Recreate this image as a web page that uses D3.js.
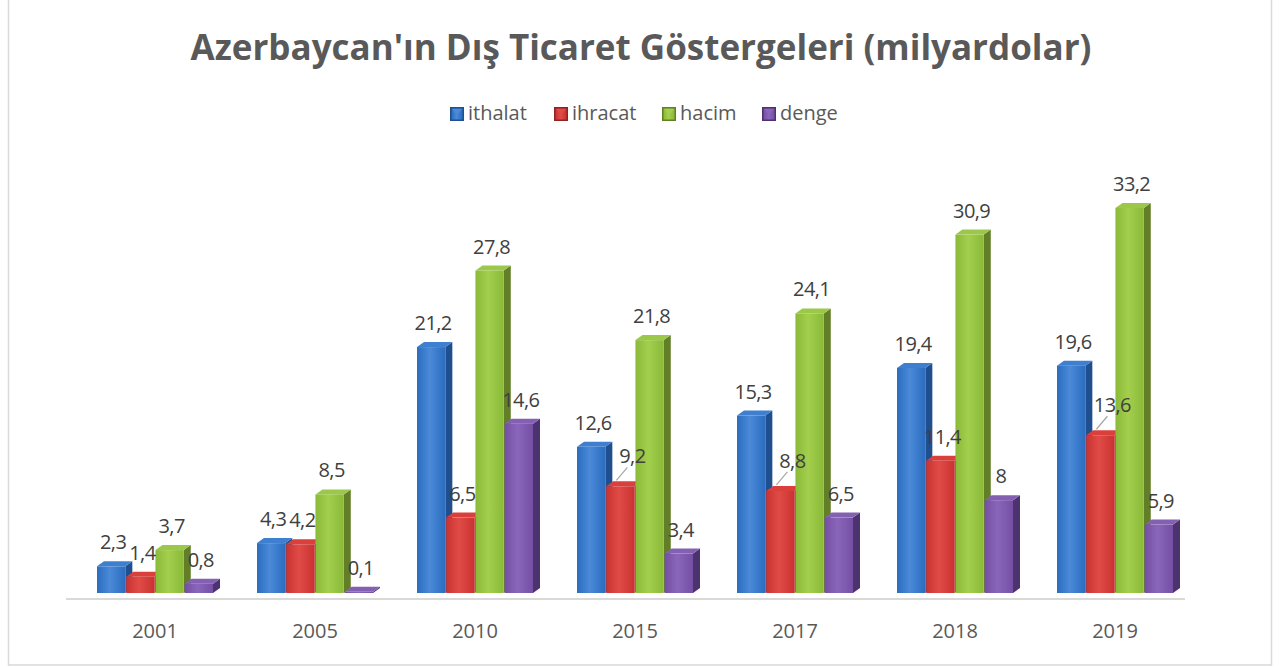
<!DOCTYPE html>
<html>
<head>
<meta charset="utf-8">
<script src="https://d3js.org/d3.v7.min.js"></script>
<style>
  body { margin: 0; background: #fff; }
  svg { display: block; font-family: "Open Sans", sans-serif; }
</style>
</head>
<body>
<script>
//chart data
var years = ["2001", "2005", "2010", "2015", "2017", "2018", "2019"];
var seriesNames = ["ithalat", "ihracat", "hacim", "denge"];
var ithalat = [2.3, 4.3, 21.2, 12.6, 15.3, 19.4, 19.6];
var ihracat = [1.4, 4.2, 6.5, 9.2, 8.8, 11.4, 13.6];
var hacim = [3.7, 8.5, 27.8, 21.8, 24.1, 30.9, 33.2];
var denge = [0.8, 0.1, 14.6, 3.4, 6.5, 8, 5.9];
var valueArray = [ithalat, ihracat, hacim, denge];
//labels that were pushed up with a leader line ("series|year")
var leaderLabels = ["ihracat|2015", "ihracat|2017", "ihracat|2019"];

//colours per series: front, side, top
var colors = [
  {front: "#2c6cc0", light: "#4a8ad8", side: "#1f4f8f", top: "#3f7fd0"},
  {front: "#c93230", light: "#e04b47", side: "#8e2321", top: "#d9403c"},
  {front: "#8aba38", light: "#a3cf4d", side: "#627f27", top: "#9cc84a"},
  {front: "#744fa4", light: "#8a66ba", side: "#4d3270", top: "#8360b2"}
];

var width = 1279, height = 667;
var svg = d3.select("body").append("svg")
  .attr("width", width)
  .attr("height", height);

//outer frame
svg.append("rect")
  .attr("x", 8.5).attr("y", -2)
  .attr("width", 1263).attr("height", 667)
  .attr("fill", "none")
  .attr("stroke", "#d9d9d9")
  .attr("stroke-width", 1.5);

//title
svg.append("text")
  .attr("x", 641).attr("y", 60)
  .attr("text-anchor", "middle")
  .attr("font-size", 35)
  .attr("font-weight", "bold")
  .attr("fill", "#595959")
  .text("Azerbaycan'ın Dış Ticaret Göstergeleri (milyardolar)");

//gradients
var defs = svg.append("defs");
colors.forEach(function(c, i){
  var g = defs.append("linearGradient")
    .attr("id", "grad" + i)
    .attr("x1", "0").attr("x2", "1").attr("y1", "0").attr("y2", "0");
  g.append("stop").attr("offset", "0%").attr("stop-color", c.front);
  g.append("stop").attr("offset", "45%").attr("stop-color", c.light);
  g.append("stop").attr("offset", "100%").attr("stop-color", c.front);
});

//scales
var baseY = 593;
var x0 = d3.scaleBand()
  .domain(years)
  .range([75, 1195]);
var x1 = d3.scaleBand()
  .domain(seriesNames)
  .range([-58, 58])
  .paddingInner(0.03);
var y = d3.scaleLinear()
  .domain([0, 35])
  .range([baseY, baseY - 35 * 11.6]);

var depthX = 7, depthY = 5;

//axis line
svg.append("line")
  .attr("x1", 66).attr("x2", 1185)
  .attr("y1", 599).attr("y2", 599)
  .attr("stroke", "#d9d9d9")
  .attr("stroke-width", 2);

//category axis labels
var xAxis = d3.axisBottom(x0).tickSize(0).tickPadding(0);
var axisG = svg.append("g")
  .attr("transform", "translate(0,624)")
  .call(xAxis);
axisG.select(".domain").remove();
axisG.selectAll("text")
  .attr("font-family", "Open Sans, sans-serif")
  .attr("font-size", 20)
  .attr("fill", "#595959");

//build bar records
var bars = [];
years.forEach(function(yr, j){
  seriesNames.forEach(function(s, i){
    bars.push({year: yr, series: s, si: i, value: valueArray[i][j]});
  });
});

var barG = svg.append("g").attr("class", "bars");
var groups = barG.selectAll(".bar")
  .data(bars)
  .enter()
  .append("g")
  .attr("class", function(d){ return "bar " + d.series; });

function barX(d){ return x0(d.year) + x0.bandwidth() / 2 + x1(d.series); }

//side face
groups.append("path")
  .attr("d", function(d){
    var xl = barX(d) + x1.bandwidth(), yt = y(d.value);
    return "M" + xl + "," + yt + "L" + (xl + depthX) + "," + (yt - depthY) +
      "L" + (xl + depthX) + "," + (baseY - depthY) + "L" + xl + "," + baseY + "Z";
  })
  .attr("fill", function(d){ return colors[d.si].side; });

//top face
groups.append("path")
  .attr("d", function(d){
    var xl = barX(d), w = x1.bandwidth(), yt = y(d.value);
    return "M" + xl + "," + yt + "L" + (xl + depthX) + "," + (yt - depthY) +
      "L" + (xl + w + depthX) + "," + (yt - depthY) + "L" + (xl + w) + "," + yt + "Z";
  })
  .attr("fill", function(d){ return colors[d.si].top; });

//front face
groups.append("rect")
  .attr("x", barX)
  .attr("y", function(d){ return y(d.value); })
  .attr("width", x1.bandwidth())
  .attr("height", function(d){ return baseY - y(d.value); })
  .attr("fill", function(d){ return "url(#grad" + d.si + ")"; });

//data labels, in their own layer above all bars
var fmt = function(v){ return String(v).replace(".", ","); };
var labelG = svg.append("g").attr("class", "labels");
bars.forEach(function(d){
  var key = d.series + "|" + d.year;
  var cx = barX(d) + x1.bandwidth() / 2 + 2;
  var ly = y(d.value) - 17;
  if (leaderLabels.indexOf(key) >= 0){
    ly -= 6;
    labelG.append("line")
      .attr("x1", cx - 6).attr("y1", y(d.value) - 6)
      .attr("x2", cx + 5).attr("y2", y(d.value) - 19)
      .attr("stroke", "#a6a6a6").attr("stroke-width", 1.2);
    cx += 10;
  }
  labelG.append("text")
    .attr("x", cx)
    .attr("y", ly)
    .attr("text-anchor", "middle")
    .attr("font-size", 20)
    .attr("letter-spacing", "-0.6")
    .attr("fill", "#404040")
    .text(fmt(d.value));
});

//legend
var legendX = [450, 554, 662, 762];
var legend = svg.append("g").attr("class", "legend");
seriesNames.forEach(function(s, i){
  var item = legend.append("g").attr("transform", "translate(" + legendX[i] + ",107)");
  item.append("rect")
    .attr("width", 14).attr("height", 14)
    .attr("fill", colors[i].side);
  item.append("rect")
    .attr("x", 1.5).attr("y", 1.5)
    .attr("width", 11).attr("height", 11)
    .attr("fill", "url(#grad" + i + ")");
  item.append("path")
    .attr("d", "M2,2L12,2L7,8Z")
    .attr("fill", colors[i].light);
  item.append("text")
    .attr("x", 18).attr("y", 13)
    .attr("font-size", 20)
    .attr("fill", "#595959")
    .text(s);
});
</script>
</body>
</html>
